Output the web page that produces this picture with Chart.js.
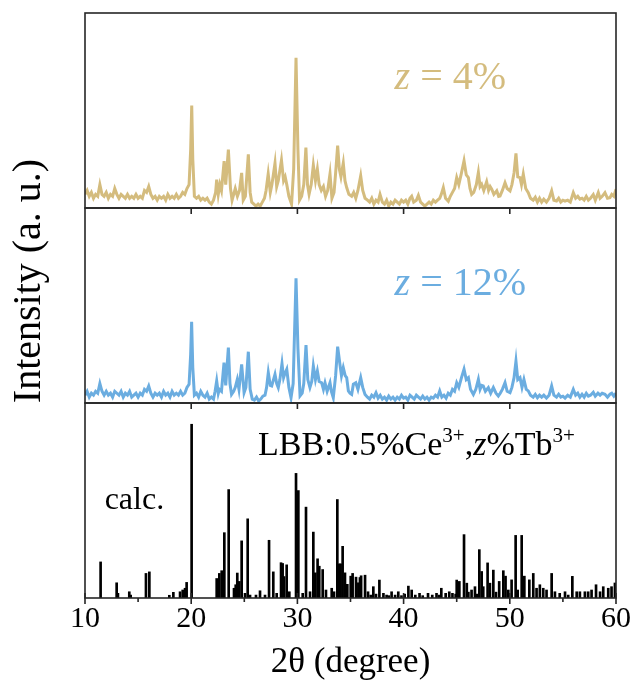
<!DOCTYPE html>
<html><head><meta charset="utf-8">
<script src="https://cdn.jsdelivr.net/npm/chart.js@4"></script>
<style>html,body{margin:0;padding:0;background:#fff}#wrap{position:relative;width:634px;height:689px}</style>
</head><body><div id="wrap"><canvas id="c" width="634" height="689"></canvas></div>
<script>
// ---- data (2θ in degrees, intensity in panel units 0-100) ----
const xTicks = [10, 20, 30, 40, 50, 60];
const xMinorTicks = [15, 25, 35, 45, 55];

const xrd4 = [[10.0,7],[10.2,9],[10.4,6],[10.6,8],[10.8,5],[11.0,7],[11.2,6],[11.4,12],[11.6,7],[11.8,6],[12.0,8],[12.2,5],[12.4,7],[12.6,6],[12.8,10],[13.0,7],[13.2,5],[13.4,7],[13.6,6],[13.8,5],[14.0,7],[14.2,5],[14.4,6],[14.6,5],[14.8,7],[15.0,5],[15.2,6],[15.4,5],[15.6,9],[15.8,8],[16.0,11],[16.2,7],[16.4,5],[16.6,6],[16.8,4],[17.0,6],[17.2,5],[17.4,6],[17.6,4],[17.8,7],[18.0,5],[18.2,6],[18.4,5],[18.6,7],[18.8,5],[19.0,6],[19.2,8],[19.4,7],[19.6,10],[19.8,12],[19.95,30],[20.05,52.6],[20.15,25],[20.3,6],[20.5,5],[20.7,6],[20.9,4],[21.1,5],[21.3,4],[21.5,5],[21.7,3],[21.9,2],[22.1,4],[22.3,8],[22.4,14.5],[22.55,7],[22.7,12],[22.85,9],[23.1,24],[23.25,12],[23.5,30],[23.7,10],[23.85,4],[24.0,7],[24.15,10],[24.35,6],[24.55,9],[24.75,18],[24.9,4],[25.1,6],[25.38,27.5],[25.55,8],[25.7,3],[25.9,2],[26.1,1],[26.3,2],[26.5,1],[26.7,3],[26.9,5],[27.05,9],[27.25,17.5],[27.45,8],[27.6,12],[27.89,23],[28.05,11],[28.2,14],[28.5,24.5],[28.7,14],[28.85,16],[29.0,12],[29.2,6],[29.45,2],[29.65,20],[29.87,77],[30.05,30],[30.2,4],[30.4,6],[30.6,12],[30.8,31],[30.95,12],[31.1,7],[31.3,12],[31.5,22],[31.7,14],[31.88,20],[32.05,12],[32.25,9],[32.45,11],[32.65,6],[32.85,9],[33.07,17.5],[33.25,5],[33.45,8],[33.6,18],[33.79,32],[33.95,20],[34.1,16],[34.32,23],[34.48,14],[34.64,10.5],[34.85,7],[35.11,6],[35.3,8],[35.5,5],[35.7,9],[35.96,16.5],[36.15,9],[36.37,5],[36.6,4],[36.8,3],[37.0,5],[37.2,2],[37.4,4],[37.6,3],[37.78,7],[38.0,3],[38.2,2],[38.4,4],[38.6,1],[38.8,3],[39.0,2],[39.2,4],[39.4,3],[39.6,2],[39.8,4],[40.0,3],[40.2,4],[40.4,2],[40.6,5],[40.76,6],[40.95,3],[41.2,4],[41.39,6.5],[41.6,3],[41.8,2],[42.0,1],[42.2,2],[42.4,3],[42.6,2],[42.8,4],[43.0,3],[43.2,4],[43.4,5],[43.55,7],[43.74,10.5],[43.95,5],[44.21,3.5],[44.4,6],[44.6,8],[44.8,10],[45.0,15.6],[45.2,12],[45.45,18],[45.69,24.2],[45.9,17],[46.1,15.6],[46.25,10],[46.41,7],[46.6,8],[46.85,12],[47.04,18.2],[47.2,11],[47.35,12.2],[47.55,9],[47.82,13.5],[48.0,9],[48.15,11],[48.3,9.6],[48.5,7],[48.77,8.8],[48.95,6],[49.08,6.2],[49.3,9],[49.55,13],[49.75,10],[50.02,8.8],[50.2,12],[50.4,18],[50.58,28],[50.75,16],[50.96,15.6],[51.1,12],[51.27,17.4],[51.5,10],[51.74,7.9],[51.95,5],[52.2,4],[52.4,5.5],[52.6,3],[52.8,5],[53.0,3],[53.2,4.5],[53.45,3],[53.7,5],[53.94,8.8],[54.15,4],[54.4,3.6],[54.6,5],[54.8,3],[55.0,4],[55.2,3.5],[55.45,4],[55.7,3],[55.98,7.9],[56.2,5],[56.4,6],[56.6,4.5],[56.8,5],[57.0,4],[57.2,6],[57.4,4],[57.6,5],[57.86,6.9],[58.05,4],[58.33,7.9],[58.5,5],[58.7,6],[58.96,7.9],[59.2,5],[59.43,5.3],[59.6,7],[59.8,6],[60.0,9.6]];

const xrd12 = [[10.0,4],[10.2,6],[10.4,3],[10.6,5],[10.8,4],[11.0,6],[11.2,5],[11.4,10],[11.6,6],[11.8,4],[12.0,6],[12.2,4],[12.4,5],[12.6,3],[12.8,6],[13.0,5],[13.2,4],[13.4,6],[13.6,3],[13.8,5],[14.0,4],[14.2,6],[14.4,3],[14.6,4],[14.8,5],[15.0,3],[15.2,5],[15.4,4],[15.6,7],[15.8,6],[16.0,8.7],[16.2,5],[16.4,3],[16.6,5],[16.8,4],[17.0,5],[17.2,3],[17.4,6],[17.6,4],[17.8,5],[18.0,3],[18.2,6],[18.4,4],[18.6,5],[18.8,4],[19.0,6],[19.2,4],[19.4,5],[19.6,8],[19.8,9.6],[19.95,25],[20.04,41.7],[20.15,18],[20.3,4],[20.5,5],[20.7,3],[20.9,6],[21.1,4],[21.3,3],[21.5,5],[21.7,2],[21.9,3],[22.1,2],[22.25,6],[22.4,11.3],[22.55,5],[22.65,7],[22.85,6],[23.09,20.7],[23.25,9],[23.5,28.4],[23.65,10],[23.8,4.4],[24.0,6],[24.15,8],[24.34,12.1],[24.5,7],[24.75,19.8],[24.98,5.3],[25.15,8],[25.38,26.3],[25.55,7],[25.75,2],[25.95,1.5],[26.15,3],[26.35,1],[26.55,2],[26.75,3.5],[26.95,4],[27.1,8],[27.26,15.6],[27.45,9],[27.58,8.7],[27.89,14.7],[28.05,10],[28.2,7.9],[28.35,12],[28.55,20.2],[28.7,13],[28.8,14.7],[29.0,17.3],[29.2,8],[29.4,2.7],[29.6,10],[29.87,63.9],[30.05,28],[30.25,3.6],[30.45,5],[30.6,10],[30.81,29.7],[30.98,12],[31.18,7.9],[31.35,11],[31.5,19],[31.7,12],[31.88,16.4],[32.05,11],[32.28,10.4],[32.45,7],[32.6,10.4],[32.8,6],[33.07,10.4],[33.2,6],[33.38,2.7],[33.6,14],[33.79,28.9],[34.0,20],[34.15,14],[34.32,18.1],[34.5,14],[34.64,13],[34.8,6.2],[34.95,5],[35.11,4.4],[35.27,9.6],[35.5,10.4],[35.7,7],[35.96,13],[36.15,8],[36.37,4.4],[36.6,3],[36.8,2],[37.0,4],[37.2,3],[37.4,5.3],[37.6,2.5],[37.8,4],[38.0,2],[38.2,3],[38.4,1.5],[38.6,3.5],[38.8,2],[39.0,3],[39.2,1.5],[39.4,3],[39.6,2],[39.8,4],[40.0,2.5],[40.2,3],[40.4,1.5],[40.6,4],[40.8,3],[41.0,2],[41.2,4],[41.4,3],[41.6,2],[41.8,3.5],[42.0,2],[42.2,3],[42.4,1.5],[42.6,3],[42.8,2.5],[43.0,4],[43.2,3],[43.4,6.2],[43.6,3],[43.8,4],[44.0,2.5],[44.2,5],[44.4,4],[44.6,7],[44.8,6],[45.0,10.4],[45.2,8],[45.45,13],[45.69,17.3],[45.9,12],[46.1,13],[46.3,7],[46.57,4.4],[46.8,7],[47.04,12.1],[47.2,7],[47.35,9],[47.5,8.7],[47.7,6],[47.98,7.9],[48.2,5],[48.45,7.9],[48.7,5],[48.92,3.6],[49.1,5],[49.3,7],[49.55,10.4],[49.75,6],[50.02,5.3],[50.2,8],[50.4,13],[50.58,21.5],[50.75,12],[50.96,13],[51.15,8],[51.33,12.1],[51.55,7],[51.74,6.2],[51.95,4],[52.2,3],[52.4,4.4],[52.6,2.7],[52.8,4],[53.0,3],[53.2,4],[53.45,2.5],[53.7,4],[53.94,8.7],[54.15,4],[54.4,3],[54.6,4.5],[54.8,3],[55.0,3.5],[55.2,2.5],[55.45,4],[55.7,3],[55.98,7],[56.2,4],[56.4,5],[56.6,3],[56.8,4.5],[57.0,3],[57.2,5],[57.4,3.5],[57.6,4],[57.86,5.5],[58.05,3.5],[58.3,5],[58.5,4],[58.7,5],[58.96,4.5],[59.2,3],[59.43,4.5],[59.6,5],[59.8,3.5],[60.0,5]];

const calcSticks = [[11.47,18.5],[12.98,7.8],[13.1,2.4],[14.17,3.2],[14.3,1.5],[15.74,12.6],[16.06,13.4],[17.94,1.4],[18.32,2.9],[18.95,3.2],[19.2,4.1],[19.42,5],[19.57,8],[20.04,89.1],[22.4,10],[22.65,12.6],[22.87,14],[23.12,33.5],[23.53,55.6],[24.03,5],[24.19,6.8],[24.34,12.8],[24.53,8.5],[24.75,29.3],[25.07,2.4],[25.32,40.6],[25.54,1.5],[26.1,1.5],[26.48,3.7],[26.95,1.5],[27.33,29.6],[27.73,13.4],[28.05,2.4],[28.46,18.1],[28.61,17.7],[28.74,11],[28.99,17],[29.24,3.2],[29.87,63.9],[30.09,55.1],[30.5,2.4],[30.81,46.6],[31.19,3.2],[31.5,33.8],[31.69,12.9],[31.9,20.1],[32.06,16.3],[32.38,14.6],[32.69,4.1],[33.23,5],[33.45,3.2],[33.76,50.5],[33.95,17.5],[34.07,17.5],[34.26,26.5],[34.48,12.9],[34.7,7],[35.02,11.2],[35.2,12.6],[35.52,10.7],[35.74,7.8],[35.89,10.5],[36.0,11.4],[36.37,11.7],[36.65,3.2],[36.9,1.5],[37.15,5.8],[37.4,2],[37.72,9.2],[38.1,2.4],[38.4,1.5],[38.6,1.2],[38.87,3.2],[39.2,1.5],[39.5,3.2],[39.8,1.2],[40.1,2],[40.45,6.1],[40.76,4.1],[41.1,1.5],[41.5,2.4],[41.8,1.2],[42.3,2.4],[42.7,1.5],[43.1,2.4],[43.35,1.5],[43.55,5],[43.96,2.4],[44.3,3.2],[44.6,2.4],[44.9,2],[45.0,9.2],[45.25,8.5],[45.69,32.5],[45.95,7.6],[46.1,3],[46.4,4.1],[46.72,5.8],[46.9,2],[47.13,24.8],[47.35,13.6],[47.5,5.8],[47.91,18],[48.13,7.6],[48.45,14.3],[48.7,3],[49.0,8.5],[49.39,14],[49.6,11.2],[49.86,4.1],[50.17,9.3],[50.55,32.1],[50.74,4.1],[51.12,32.1],[51.37,11.2],[51.84,9.3],[52.21,12.6],[52.52,5],[52.83,6.8],[53.15,5],[53.46,4.1],[53.94,12.6],[54.25,3.2],[54.7,2.4],[55.2,3.2],[55.5,1.5],[55.89,11.1],[56.3,3.2],[56.6,3.2],[57.07,3.2],[57.38,3.2],[57.7,4.1],[58.12,6.8],[58.5,3.2],[58.8,5.8],[59.27,5],[59.58,5.8],[59.9,7.7]];

const xTitle = '2θ (degree)';
const yTitle = 'Intensity (a. u.)';

// ---- styles ----
const GOLD = '#D4BC7E';
const BLUE = '#6BADE0';
const SERIF = '"Liberation Serif", "Times New Roman", serif';

const toXY = a => a.map(p => ({x: p[0], y: p[1]}));

function drawRuns(ctx, runs, x, y, size, color) {
  let cx = x;
  ctx.fillStyle = color;
  ctx.textAlign = 'left';
  ctx.textBaseline = 'alphabetic';
  runs.forEach(r => {
    const s = r.sup ? size * 0.62 : size;
    ctx.font = (r.it ? 'italic ' : '') + s + 'px ' + SERIF;
    ctx.fillText(r.t, cx, r.sup ? y - size * 0.36 : y);
    cx += ctx.measureText(r.t).width;
  });
}

const framePlugin = {
  id: 'frame',
  afterDraw(chart) {
    const {ctx, scales} = chart;
    const x = scales.x, yTop = scales.yTop, yMid = scales.yMid, yBot = scales.yBot;
    ctx.save();
    ctx.strokeStyle = '#262626';
    ctx.lineWidth = 1.6;
    [yTop, yMid, yBot].forEach(s => ctx.strokeRect(x.left, s.top, x.right - x.left, s.bottom - s.top));
    ctx.beginPath();
    [yTop, yMid].forEach(s => xTicks.slice(1, -1).forEach(v => {
      const px = x.getPixelForValue(v);
      ctx.moveTo(px, s.bottom); ctx.lineTo(px, s.bottom + 6);
    }));
    xTicks.forEach(v => {
      const px = x.getPixelForValue(v);
      ctx.moveTo(px, yBot.bottom - 5); ctx.lineTo(px, yBot.bottom + 6);
    });
    xMinorTicks.forEach(v => {
      const px = x.getPixelForValue(v);
      ctx.moveTo(px, yBot.bottom); ctx.lineTo(px, yBot.bottom + 4);
    });
    ctx.stroke();

    // annotations
    drawRuns(ctx, [{t: 'z', it: true}, {t: ' = 4%'}], x.getPixelForValue(39.15), yTop.getPixelForValue(60.8), 40, GOLD);
    drawRuns(ctx, [{t: 'z', it: true}, {t: ' = 12%'}], x.getPixelForValue(39.15), yMid.getPixelForValue(55.4), 40, BLUE);
    drawRuns(ctx, [{t: 'LBB:0.5%Ce'}, {t: '3+', sup: true}, {t: ','}, {t: 'z', it: true}, {t: '%Tb'}, {t: '3+', sup: true}],
      x.getPixelForValue(26.3), yBot.getPixelForValue(73.5), 34, '#000');
    drawRuns(ctx, [{t: 'calc.'}], x.getPixelForValue(11.85), yBot.getPixelForValue(45.5), 32, '#000');

    // y title
    ctx.save();
    ctx.translate(29, 281);
    ctx.rotate(-Math.PI / 2);
    ctx.font = '40px ' + SERIF;
    ctx.fillStyle = '#000';
    ctx.textAlign = 'center';
    ctx.textBaseline = 'middle';
    ctx.fillText(yTitle, 0, 0);
    ctx.restore();
    ctx.restore();
  }
};

new Chart(document.getElementById('c'), {
  type: 'line',
  data: {
    datasets: [
      {type: 'bar', label: 'calc.', data: toXY(calcSticks), xAxisID: 'x', yAxisID: 'yBot',
       backgroundColor: '#000', borderWidth: 0, barThickness: 2},
      {label: 'z = 12%', data: toXY(xrd12), xAxisID: 'x', yAxisID: 'yMid',
       borderColor: BLUE, borderWidth: 3, pointRadius: 0, tension: 0, fill: false},
      {label: 'z = 4%', data: toXY(xrd4), xAxisID: 'x', yAxisID: 'yTop',
       borderColor: GOLD, borderWidth: 3, pointRadius: 0, tension: 0, fill: false}
    ]
  },
  options: {
    responsive: false,
    animation: false,
    devicePixelRatio: 1,
    layout: {padding: {left: 85, right: 18, top: 13, bottom: 5}},
    plugins: {legend: {display: false}, tooltip: {enabled: false}},
    scales: {
      x: {
        type: 'linear', position: 'bottom', min: 10, max: 60, offset: false,
        grid: {display: false, drawTicks: false}, border: {display: false},
        ticks: {stepSize: 10, padding: 3, color: '#000', maxRotation: 0, autoSkip: false,
                font: {family: SERIF, size: 30}},
        title: {display: true, text: xTitle, color: '#000', font: {family: SERIF, size: 35},
                padding: {top: 2, bottom: 0}}
      },
      yBot: {type: 'linear', position: 'left', stack: 'panels', stackWeight: 1, min: 0, max: 100, display: false},
      yMid: {type: 'linear', position: 'left', stack: 'panels', stackWeight: 1, min: 0, max: 100, display: false},
      yTop: {type: 'linear', position: 'left', stack: 'panels', stackWeight: 1, min: 0, max: 100, display: false}
    }
  },
  plugins: [framePlugin]
});
</script>
</body></html>
